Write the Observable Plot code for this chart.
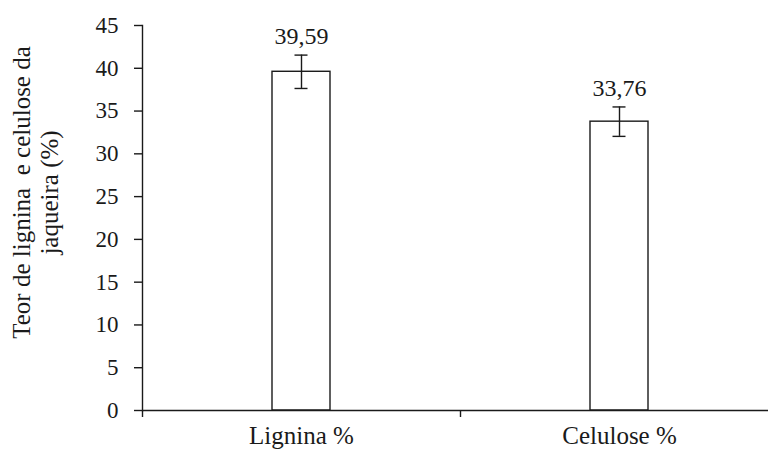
<!DOCTYPE html>
<html>
<head>
<meta charset="utf-8">
<script src="https://cdn.jsdelivr.net/npm/d3@7"></script>
<script src="https://cdn.jsdelivr.net/npm/@observablehq/plot@0.6"></script>
<style>
  html, body { margin: 0; padding: 0; background: #fff; }
</style>
</head>
<body>
<div id="chart"></div>
<script>
const categories = ["Lignina %", "Celulose %"];
const means = [39.59, 33.76];
const errors = [1.95, 1.72];
const yTicks = [0, 5, 10, 15, 20, 25, 30, 35, 40, 45];
const yTitle = "Teor de lignina  e celulose da\njaqueira (%)";

const data = categories.map((c, i) => ({
  cat: c,
  mean: means[i],
  lo: means[i] - errors[i],
  hi: means[i] + errors[i],
  label: d3.format(".2f")(means[i]).replace(".", ",")
}));

const W = 768, H = 450;
const xRange = [142, 778];
const step = (xRange[1] - xRange[0]) / categories.length;
const font = "'Liberation Serif', 'Times New Roman', serif";
const ink = "#1a1a1a";

const chart = Plot.plot({
  width: W,
  height: H,
  marginLeft: 142,
  marginRight: 0,
  marginTop: 25,
  marginBottom: 40,
  style: { fontFamily: font, color: ink, background: "#fff", overflow: "visible" },
  x: { domain: categories, range: xRange, paddingInner: 0.8176, paddingOuter: 0.4088, align: 0.5 },
  y: { domain: [0, 45] },
  marks: [
    Plot.barY(data, { x: "cat", y: "mean", fill: "white", stroke: ink, strokeWidth: 1.4 }),
    Plot.ruleX(data, { x: "cat", y1: "lo", y2: "hi", stroke: ink, strokeWidth: 1.4 }),
    Plot.tickY(data, { x: "cat", y: "lo", stroke: ink, strokeWidth: 1.4, insetLeft: 22.5, insetRight: 22.5 }),
    Plot.tickY(data, { x: "cat", y: "hi", stroke: ink, strokeWidth: 1.4, insetLeft: 22.5, insetRight: 22.5 }),
    Plot.text(data, { x: "cat", y: "hi", text: "label", dy: -11, lineAnchor: "bottom", fontSize: 24, fill: ink }),
    Plot.ruleY([0], { stroke: ink, strokeWidth: 1.4 }),
    Plot.ruleX(categories, { x: d => d, y1: 0, y2: 0, dx: -step / 2, insetBottom: -7, stroke: ink, strokeWidth: 1.4 }),
    Plot.frame({ anchor: "left", stroke: ink, strokeWidth: 1.4 }),
    Plot.axisY({ ticks: yTicks, tickSize: 8, tickPadding: 16, fontSize: 23, label: null, stroke: ink, strokeWidth: 1.4, fill: ink }),
    Plot.axisX({ tickSize: 0, tickPadding: 16, fontSize: 25, label: null, fill: ink }),
    Plot.text([yTitle], { frameAnchor: "left", rotate: -90, text: d => d, dx: -107, dy: -25.5, fontSize: 25, lineHeight: 1.12, lineAnchor: "middle", textAnchor: "middle", fill: ink })
  ]
});

document.getElementById("chart").appendChild(chart);
</script>
</body>
</html>
